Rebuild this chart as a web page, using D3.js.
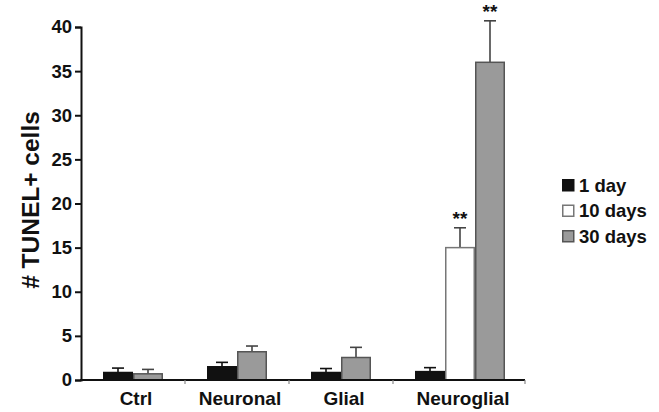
<!DOCTYPE html>
<html>
<head>
<meta charset="utf-8">
<script src="https://cdn.jsdelivr.net/npm/d3@7"></script>
<style>
  body { margin: 0; background: #fff; }
  text { font-family: "Liberation Sans", Arial, sans-serif; font-weight: bold; fill: #111; }
</style>
</head>
<body>
<script>
// chart values
const categories = ["Ctrl", "Neuronal", "Glial", "Neuroglial"];
const seriesNames = ["1 day", "10 days", "30 days"];
// null = no bar for that group
const day1 = [0.85, 1.5, 0.85, 0.95];
const day10 = [null, null, null, 15.0];
const day30 = [0.7, 3.2, 2.55, 36.0];
const err1 = [0.5, 0.5, 0.45, 0.45];
const err10 = [null, null, null, 2.25];
const err30 = [0.5, 0.65, 1.15, 4.7];
const starred = [[3, 1], [3, 2]]; // [group, series] marked "**"
const yTicks = [0, 5, 10, 15, 20, 25, 30, 35, 40];

const W = 659, H = 412;
const margin = { left: 81, top: 27, bottom: 32 };
const fills = ["#111", "#fff", "#9a9a9a"];
const strokes = ["#111", "#777", "#555"];

const svg = d3.select("body").append("svg")
    .attr("width", W)
    .attr("height", H);

const y = d3.scaleLinear().domain([0, 40]).range([H - margin.bottom, margin.top]);
const x = d3.scaleBand().domain(categories).range([margin.left, 497]).paddingInner(0).paddingOuter(0);
const barW = 30, barOffset = 22;

const values = [day1, day10, day30];
const errs = [err1, err10, err30];

// build bars: within a group, present series sit next to each other
const bars = [];
categories.forEach((c, gi) => {
    let slot = 0;
    values.forEach((vals, si) => {
        if (vals[gi] == null) return;
        bars.push({ g: gi, s: si, v: vals[gi], e: errs[si][gi], x0: x(c) + barOffset + slot * barW });
        slot++;
    });
});

// error bars (upward only)
const eb = svg.append("g");
bars.forEach(d => {
    const cx = d.x0 + barW / 2;
    const col = d.s === 0 ? "#111" : "#444";
    eb.append("line").attr("x1", cx).attr("x2", cx)
        .attr("y1", y(d.v)).attr("y2", y(d.v + d.e))
        .attr("stroke", col).attr("stroke-width", 1.6);
    eb.append("line").attr("x1", cx - 6).attr("x2", cx + 6)
        .attr("y1", y(d.v + d.e)).attr("y2", y(d.v + d.e))
        .attr("stroke", col).attr("stroke-width", 1.6);
});

svg.append("g").selectAll("rect")
    .data(bars)
    .join("rect")
    .attr("x", d => d.x0 + 0.75)
    .attr("width", barW - 1.5)
    .attr("y", d => y(d.v))
    .attr("height", d => y(0) - y(d.v))
    .attr("fill", d => fills[d.s])
    .attr("stroke", d => strokes[d.s])
    .attr("stroke-width", 1.5);

// significance stars
starred.forEach(([gi, si]) => {
    const b = bars.find(d => d.g === gi && d.s === si);
    svg.append("text")
        .attr("x", b.x0 + barW / 2)
        .attr("y", y(b.v + b.e) - 3)
        .attr("text-anchor", "middle")
        .attr("font-size", 19)
        .text("**");
});

// y axis
const yAxis = svg.append("g")
    .attr("transform", `translate(${margin.left},0)`)
    .call(d3.axisLeft(y).tickValues(yTicks).tickSize(6).tickPadding(3));
yAxis.select(".domain").attr("stroke", "#111").attr("stroke-width", 2);
yAxis.selectAll(".tick line").attr("stroke", "#111").attr("stroke-width", 2);
yAxis.selectAll(".tick text")
    .attr("font-size", 18.5)
    .attr("font-family", "Liberation Sans, Arial, sans-serif")
    .attr("font-weight", "bold")
    .attr("fill", "#111");

// x axis line and small group ticks
svg.append("line")
    .attr("x1", margin.left - 1).attr("x2", 525)
    .attr("y1", y(0)).attr("y2", y(0))
    .attr("stroke", "#111").attr("stroke-width", 2.2);
const bounds = categories.slice(1).map(c => x(c)).concat([525]);
svg.append("g").selectAll("line")
    .data(bounds)
    .join("line")
    .attr("x1", d => d).attr("x2", d => d)
    .attr("y1", y(0)).attr("y2", y(0) + 4)
    .attr("stroke", "#888").attr("stroke-width", 1.2);

// category labels centred under their bars
categories.forEach((c, gi) => {
    const gb = bars.filter(d => d.g === gi);
    const cx = (gb[0].x0 + gb[gb.length - 1].x0 + barW) / 2;
    svg.append("text")
        .attr("x", cx + 3)
        .attr("y", 405)
        .attr("text-anchor", "middle")
        .attr("font-size", 19)
        .text(c);
});

// y label
svg.append("text")
    .attr("transform", `translate(39,200) rotate(-90)`)
    .attr("text-anchor", "middle")
    .attr("font-size", 24.5)
    .text("# TUNEL+ cells");

// legend
const legend = svg.append("g").attr("transform", "translate(562,179)");
seriesNames.forEach((n, i) => {
    const row = legend.append("g").attr("transform", `translate(0,${i * 25.5})`);
    row.append("rect")
        .attr("x", 0.75).attr("y", 0.75)
        .attr("width", 11).attr("height", 11)
        .attr("fill", fills[i])
        .attr("stroke", strokes[i])
        .attr("stroke-width", 1.5);
    row.append("text")
        .attr("x", 17).attr("y", 12.5)
        .attr("font-size", 18.5)
        .text(n);
});
</script>
</body>
</html>
